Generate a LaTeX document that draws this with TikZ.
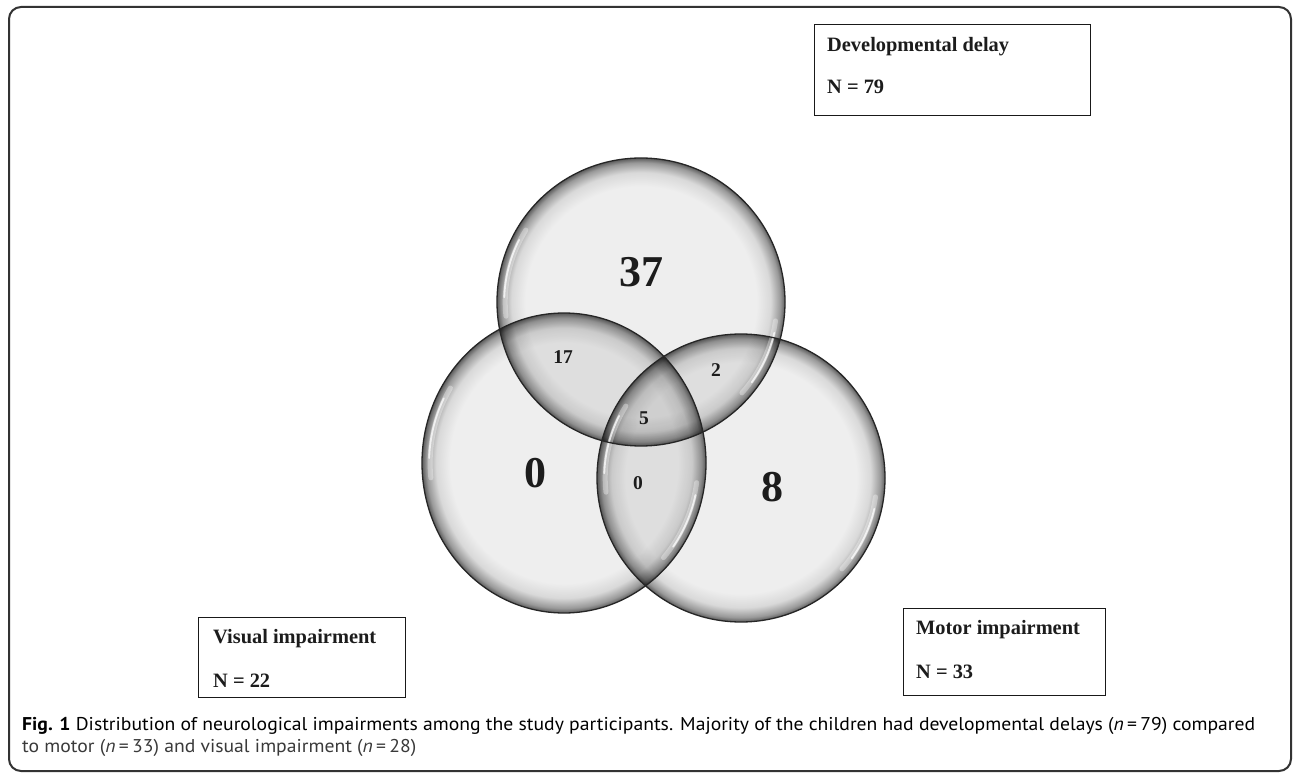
\documentclass[tikz,border=0pt]{standalone}
\usepackage{fontspec}
\setmainfont{Liberation Serif}
\newfontfamily\capfont{PT Sans}
\definecolor{bbase}{gray}{0.935}
\definecolor{bmid}{gray}{0.85}
\definecolor{bdark}{gray}{0.6}
\definecolor{bedge}{gray}{0.36}
\definecolor{framec}{HTML}{333333}
\definecolor{capc}{HTML}{3A3A3A}
\definecolor{txtc}{HTML}{1C1C1C}
\pgfdeclareradialshading{bubble}{\pgfpointorigin}{%
 color(0bp)=(bbase); color(20bp)=(bbase); color(22.5bp)=(bmid);
 color(24.2bp)=(bdark); color(25bp)=(bedge); color(50bp)=(bedge)}
\newsavebox\capboxA
\newlength\capwd
\begin{document}
\sbox\capboxA{\capfont\fontsize{18.5}{18.5}\selectfont\textbf{Fig. 1} Distribution of neurological impairments among the study participants. Majority of the children had developmental delays (\textit{n}\,=\,79) compared}%
\setlength\capwd{\wd\capboxA}%
\begin{tikzpicture}[x=1pt,y=-1pt,
  outl/.style={draw=black!85,line width=1.3pt},
  hlwide/.style={draw=white,line width=5pt,line cap=round,opacity=0.35},
  hlthin/.style={draw=white,line width=1.8pt,line cap=round,opacity=0.75},
  bignum/.style={inner sep=0pt,text=txtc,font=\fontsize{44}{44}\selectfont\bfseries},
  smallnum/.style={inner sep=0pt,text=txtc,font=\fontsize{19.5}{19.5}\selectfont\bfseries},
  labelbox/.style={draw=black!90,line width=1.1pt,anchor=north west,inner sep=0pt},
  labeltxt/.style={anchor=base west,inner sep=0pt,text=txtc,font=\fontsize{20.4}{20.4}\selectfont\bfseries},
  captxt/.style={anchor=base west,inner sep=0pt,text=capc}]
\useasboundingbox (0,0) rectangle (1296,775);
\fill[white] (0,0) rectangle (1296,775);
\draw[framec,line width=2pt,rounded corners=12pt] (9,7) rectangle (1291,771);

\coordinate (cT) at (641,302);
\coordinate (cL) at (564,463);
\coordinate (cR) at (741,478);

\begin{scope}[blend mode=multiply]
  \shade[shading=bubble] (cT) circle[radius=144];
  \shade[shading=bubble] (cL) ellipse[x radius=142,y radius=150];
  \shade[shading=bubble] (cR) circle[radius=144];
\end{scope}

% highlights
\foreach \c/\rx/\ry in {cT/144/144,cL/142/150,cR/144/144}{
  \pgfmathsetmacro\ax{0.943*\rx}
  \pgfmathsetmacro\ay{0.943*\ry}
  \pgfmathsetmacro\bx{0.95*\rx}
  \pgfmathsetmacro\by{0.95*\ry}
  \begin{scope}[shift={(\c)}]
    \draw[hlwide] (-148:{\ax} and {\ay}) arc[start angle=-148,end angle=-186,x radius=\ax,y radius=\ay];
    \draw[hlthin] (-153:{\bx} and {\by}) arc[start angle=-153,end angle=-178,x radius=\bx,y radius=\by];
    \draw[hlwide] (8:{\ax} and {\ay}) arc[start angle=8,end angle=42,x radius=\ax,y radius=\ay];
    \draw[hlthin] (13:{\bx} and {\by}) arc[start angle=13,end angle=36,x radius=\bx,y radius=\by];
  \end{scope}
}

\draw[outl] (cT) circle[radius=144];
\draw[outl] (cL) ellipse[x radius=142,y radius=150];
\draw[outl] (cR) circle[radius=144];

\node[bignum] (n37) at (641,272) {37};
\node[bignum] (n0) at (535,473) {0};
\node[bignum] (n8) at (772,487) {8};
\node[smallnum] (n17) at (563,357.5) {17};
\node[smallnum] (n2) at (716,370) {2};
\node[smallnum] (n5) at (644,418) {5};
\node[smallnum] (n0s) at (638,483) {0};

% label boxes
\node[labelbox,minimum width=276pt,minimum height=91pt] (devbox) at (814,24) {};
\node[labeltxt] (devt) at (827,52) {Developmental delay};
\node[labeltxt] (devn) at (827,94) {N = 79};

\node[labelbox,minimum width=207pt,minimum height=80pt] (visbox) at (198,617) {};
\node[labeltxt] (vist) at (213,643) {Visual impairment};
\node[labeltxt] (visn) at (213,687) {N = 22};

\node[labelbox,minimum width=202pt,minimum height=87pt] (motbox) at (903,608) {};
\node[labeltxt] (mott) at (916,634) {Motor impairment};
\node[labeltxt] (motn) at (916,678) {N = 33};

% caption
\pgfmathsetmacro\capsx{1233/\capwd}
\node[captxt] (cap1) at (22,730) {\scalebox{\capsx}[1]{\usebox\capboxA}};
\node[captxt] (cap2) at (22,752) {\scalebox{\capsx}[1]{\capfont\fontsize{18.5}{18.5}\selectfont to motor (\textit{n}\,=\,33) and visual impairment (\textit{n}\,=\,28)}};
\end{tikzpicture}
\end{document}
